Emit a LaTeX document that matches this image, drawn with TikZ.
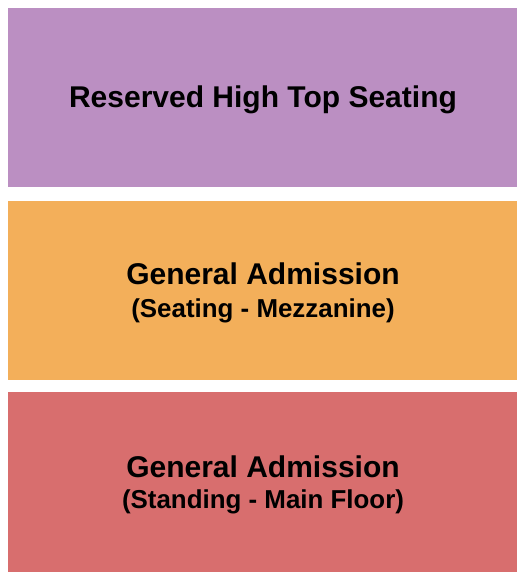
\documentclass[tikz,border=0pt]{standalone}
\usepackage{fontspec}
\setmainfont{Liberation Sans}
\definecolor{purp}{RGB}{187,143,194}
\definecolor{oran}{RGB}{243,175,90}
\definecolor{redd}{RGB}{216,110,110}
\begin{document}
\begin{tikzpicture}[x=1pt,y=-1pt,
  ttl/.style={anchor=base,inner sep=0pt,font=\fontsize{30}{30}\selectfont\bfseries},
  sub/.style={anchor=base,inner sep=0pt,font=\fontsize{25.9}{26}\selectfont\bfseries}]
\useasboundingbox (0,0) rectangle (525,580);
\fill[purp] (8,8) rectangle (517,187);
\fill[oran] (8,201) rectangle (517,380);
\fill[redd] (8,392) rectangle (517,572);
\node[ttl] (t1) at (263,108) {Reserved High Top Seating};
\node[ttl] (t2) at (263,284.5) {General Admission};
\node[sub] (s2) at (263,317) {(Seating - Mezzanine)};
\node[ttl] (t3) at (263,477) {General Admission};
\node[sub] (s3) at (263,508.5) {(Standing - Main Floor)};
\end{tikzpicture}
\end{document}
